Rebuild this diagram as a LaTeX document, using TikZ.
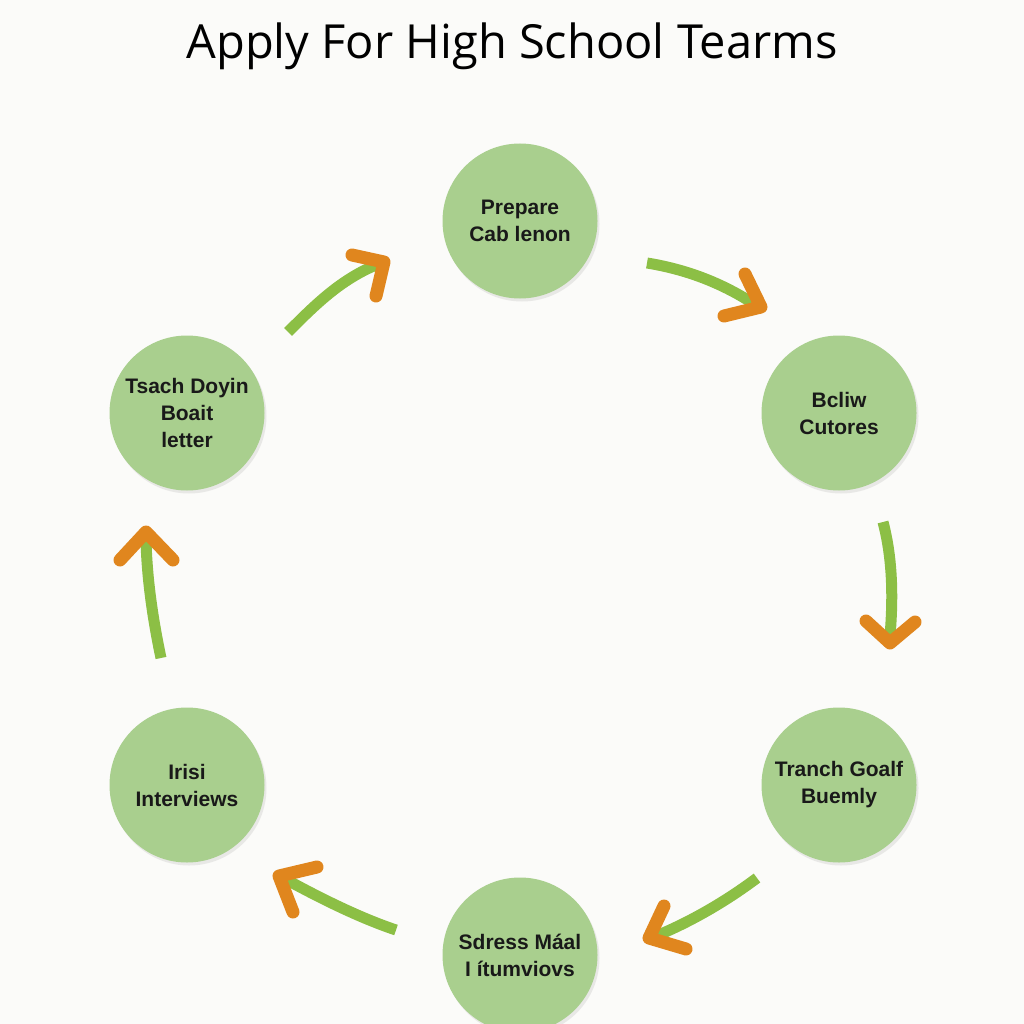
\documentclass[tikz,border=0pt]{standalone}
\usepackage{fontspec}
\setmainfont{Liberation Sans}
\newfontfamily\titlefont{Open Sans}
\usetikzlibrary{shadows}
\definecolor{bgc}{HTML}{FBFBF9}
\definecolor{circfill}{HTML}{A9CF8E}
\definecolor{shaftc}{HTML}{8CBF45}
\definecolor{headc}{HTML}{E0861E}
\tikzset{
  stage/.style={circle, fill=circfill, minimum size=155pt, inner sep=0pt, align=center,
    font=\bfseries\fontsize{21}{27}\selectfont, text=black!90,
    drop shadow={opacity=0.15, shadow xshift=2pt, shadow yshift=-3pt}},
  shaft/.style={draw=shaftc, line width=11pt},
  chevron/.style={draw=headc, line width=13pt, line cap=round, line join=round}
}
\begin{document}
\begin{tikzpicture}[x=1pt,y=-1pt]
\useasboundingbox (0,0) rectangle (1024,1024);
\fill[bgc] (0,0) rectangle (1024,1024);
\node (title) at (512,46) {\titlefont\fontsize{47}{52}\selectfont Apply For High School Tearms};

\node[stage] (top) at (520,221) {Prepare\\Cab lenon};
\node[stage] (ru) at (839,413) {Bcliw\\Cutores};
\node[stage] (rl) at (839,785) {Tranch Goalf\\Buemly};
\node[stage] (bot) at (520,955) {Sdress Máal\\I ítumviovs};
\node[stage] (ll) at (187,785) {Irisi\\Interviews};
\node[stage] (lu) at (187,413) {Tsach Doyin\\Boait\\letter};

% arrow 1: lu -> top
\coordinate (a1s) at (288,332);
\coordinate (a1t) at (384,262);
\draw[shaft] (a1s) .. controls (315,305) and (340,280) .. (376,265);
\draw[chevron] (352,255) -- (a1t) -- (376,296);
% arrow 2: top -> ru
\coordinate (a2s) at (647,263);
\coordinate (a2t) at (761,307);
\draw[shaft] (a2s) .. controls (690,270) and (725,285) .. (754,304);
\draw[chevron] (745,274) -- (a2t) -- (724,316);
% arrow 3: ru -> rl
\coordinate (a3s) at (883,522);
\coordinate (a3t) at (890,643);
\draw[shaft] (a3s) .. controls (893,560) and (893,600) .. (890,636);
\draw[chevron] (866,621) -- (a3t) -- (915,622);
% arrow 4: rl -> bot
\coordinate (a4s) at (757,878);
\coordinate (a4t) at (649,938);
\draw[shaft] (a4s) .. controls (725,902) and (690,922) .. (656,936);
\draw[chevron] (664,906) -- (a4t) -- (686,949);
% arrow 5: bot -> ll
\coordinate (a5s) at (396,930);
\coordinate (a5t) at (279,876);
\draw[shaft] (a5s) .. controls (360,918) and (320,898) .. (287,880);
\draw[chevron] (317,867) -- (a5t) -- (293,912);
% arrow 6: ll -> lu
\coordinate (a6s) at (161,658);
\coordinate (a6t) at (146,532);
\draw[shaft] (a6s) .. controls (153,620) and (147,580) .. (146,540);
\draw[chevron] (120,560) -- (a6t) -- (173,560);
\end{tikzpicture}
\end{document}
